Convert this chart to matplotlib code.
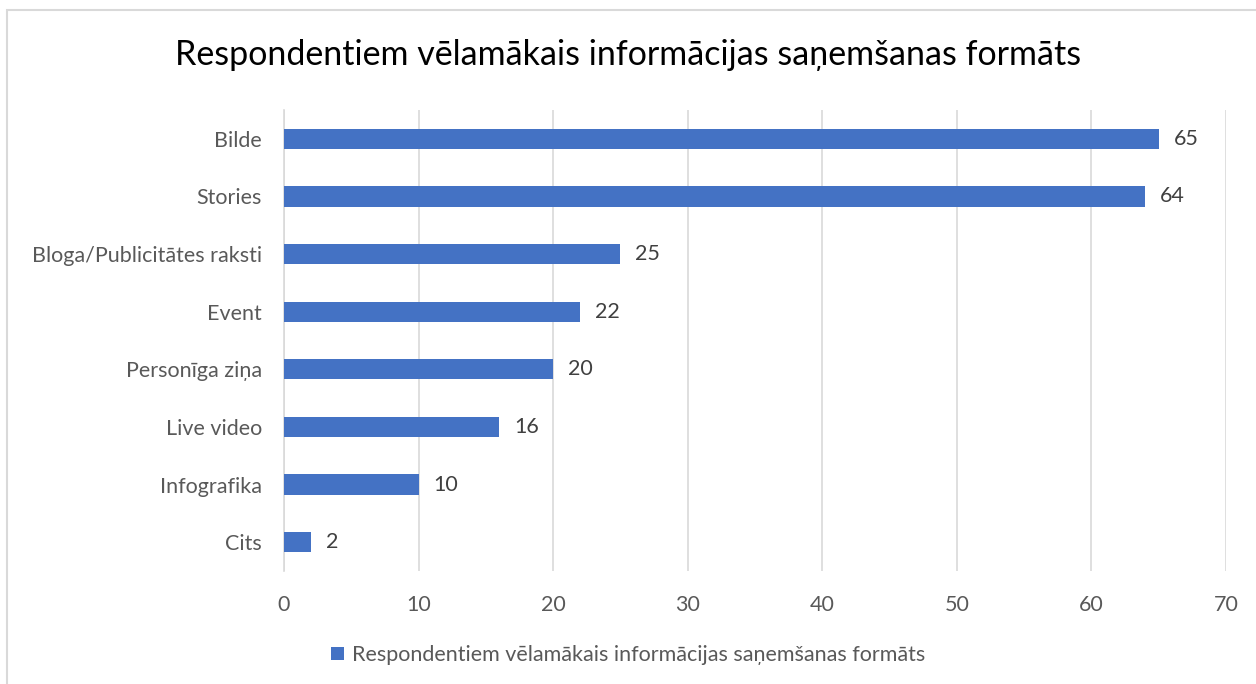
import matplotlib.pyplot as plt
from matplotlib.patches import Rectangle

categories = ["Bilde", "Stories", "Bloga/Publicitātes raksti", "Event",
              "Personīga ziņa", "Live video", "Infografika", "Cits"]
values = [65, 64, 25, 22, 20, 16, 10, 2]
series_name = "Respondentiem vēlamākais informācijas saņemšanas formāts"

plt.rcParams["font.family"] = ["Lato", "DejaVu Sans"]

fig = plt.figure(figsize=(12.56, 6.84), dpi=100)
ax = fig.add_axes([284 / 1256, 1 - 571 / 684, (1226 - 284) / 1256, 461 / 684])

pos = list(range(len(categories)))
bars = ax.barh(pos, values, height=0.35, color="#4472C4", label=series_name, zorder=3)
for p, v in zip(pos, values):
    ax.text(v + 1.1, p, str(v), va="center", ha="left", fontsize=15.5, color="#404040")

ax.set_yticks(pos)
ax.set_yticklabels(categories)
ax.set_ylim(7.5, -0.5)
ax.set_xlim(0, 70)
ax.set_xticks(range(0, 71, 10))
ax.tick_params(axis="both", length=0, labelsize=15.5, labelcolor="#595959")
ax.tick_params(axis="y", pad=16)
ax.tick_params(axis="x", pad=17)
ax.grid(axis="x", color="#D9D9D9", linewidth=1.2, zorder=0)
for s in ["top", "right", "bottom"]:
    ax.spines[s].set_visible(False)
ax.spines["left"].set_color("#D9D9D9")
ax.spines["left"].set_linewidth(1.2)

fig.text(0.5, 1 - 55 / 684, series_name, ha="center", va="center", fontsize=24.5, color="black")

fig.legend(loc="center", bbox_to_anchor=(0.5, 1 - 655 / 684), frameon=False,
           fontsize=15.5, labelcolor="#595959", handlelength=0.6, handleheight=0.6,
           handletextpad=0.4)

fig.patches.append(Rectangle((7 / 1256, -0.1), 1.2, 1 - 10 / 684 + 0.1,
                             transform=fig.transFigure, fill=False,
                             edgecolor="#D9D9D9", linewidth=1.5))

fig.savefig("out.png", dpi=100)
